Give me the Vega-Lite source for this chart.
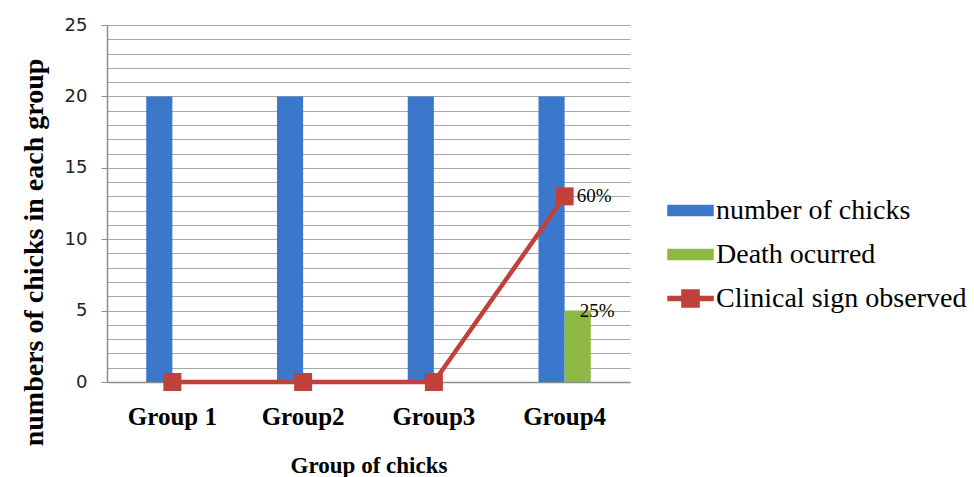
{
  "$schema": "https://vega.github.io/schema/vega-lite/v6.json",
  "width": 523,
  "height": 357,
  "autosize": "none",
  "padding": {"left": 107, "top": 25, "right": 344, "bottom": 95},
  "background": "white",
  "config": {"view": {"stroke": null}},
  "data": {
    "values": [
      {"group": "Group 1", "series": "number of chicks", "value": 20, "label": ""},
      {"group": "Group 1", "series": "Death ocurred", "value": 0, "label": ""},
      {"group": "Group 1", "series": "Clinical sign observed", "value": 0, "label": ""},
      {"group": "Group2", "series": "number of chicks", "value": 20, "label": ""},
      {"group": "Group2", "series": "Death ocurred", "value": 0, "label": ""},
      {"group": "Group2", "series": "Clinical sign observed", "value": 0, "label": ""},
      {"group": "Group3", "series": "number of chicks", "value": 20, "label": ""},
      {"group": "Group3", "series": "Death ocurred", "value": 0, "label": ""},
      {"group": "Group3", "series": "Clinical sign observed", "value": 0, "label": ""},
      {"group": "Group4", "series": "number of chicks", "value": 20, "label": ""},
      {"group": "Group4", "series": "Death ocurred", "value": 5, "label": "25%"},
      {"group": "Group4", "series": "Clinical sign observed", "value": 13, "label": "60%"}
    ]
  },
  "encoding": {
    "x": {
      "field": "group",
      "type": "nominal",
      "sort": null,
      "scale": {"paddingInner": 0.6, "paddingOuter": 0.3},
      "axis": {
        "title": "Group of chicks",
        "titleFont": "Liberation Serif",
        "titleFontSize": 23,
        "titleFontWeight": "bold",
        "titleColor": "#000",
        "titlePadding": 25,
        "labelAngle": 0,
        "labelFont": "Liberation Serif",
        "labelFontSize": 25,
        "labelFontWeight": "bold",
        "labelColor": "#000",
        "labelPadding": 22,
        "ticks": false,
        "domainColor": "#8c8c8c",
        "domainWidth": 1.5
      }
    },
    "y": {
      "field": "value",
      "type": "quantitative",
      "scale": {"domain": [0, 25], "nice": false},
      "axis": {
        "values": [0,1,2,3,4,5,6,7,8,9,10,11,12,13,14,15,16,17,18,19,20,21,22,23,24,25],
        "labelExpr": "datum.value % 5 === 0 ? datum.label : ''",
        "grid": true,
        "gridColor": "#a8a8a8",
        "gridWidth": 1,
        "domainColor": "#8c8c8c",
        "domainWidth": 1.5,
        "tickSize": 6,
        "tickColor": "#8c8c8c",
        "tickOpacity": {"expr": "datum.value % 5 === 0 ? 1 : 0"},
        "labelFont": "DejaVu Sans",
        "labelFontSize": 18,
        "labelColor": "#222",
        "labelPadding": 14,
        "title": "numbers of chicks in each group",
        "titleFont": "Liberation Serif",
        "titleFontSize": 28,
        "titleFontWeight": "bold",
        "titleColor": "#000",
        "titleAngle": -90,
        "titleX": -73,
        "titleY": 227,
        "titleBaseline": "middle",
        "titleAlign": "center"
      }
    },
    "color": {
      "field": "series",
      "type": "nominal",
      "scale": {
        "domain": ["number of chicks", "Death ocurred", "Clinical sign observed"],
        "range": ["#3B78CC", "#8DB843", "#C0403A"]
      },
      "legend": {
        "orient": "none",
        "legendX": 560,
        "legendY": 162,
        "title": null,
        "labelFont": "Liberation Serif",
        "labelFontSize": 28,
        "labelColor": "#000",
        "labelOffset": 2,
        "labelLimit": 0,
        "symbolSize": 2025,
        "rowPadding": 6,
        "encode": {
          "labels": {
            "update": {
              "font": {"value": "Liberation Serif"},
              "fontSize": {"value": 28},
              "fill": {"value": "#000"}
            }
          },
          "symbols": {
            "update": {
              "shape": {"signal": "datum.value === 'Clinical sign observed' ? 'M-1,-0.09H1V0.09H-1Z M-0.38,-0.38H0.38V0.38H-0.38Z' : 'M-1,-0.22H1V0.22H-1Z'"},
              "fill": {"scale": "color", "field": "value"},
              "stroke": {"value": "transparent"},
              "opacity": {"value": 1},
              "fillOpacity": {"value": 1}
            }
          }
        }
      }
    }
  },
  "layer": [
    {
      "transform": [{"filter": "datum.series !== 'Clinical sign observed'"}],
      "mark": {"type": "bar", "opacity": 1},
      "encoding": {
        "xOffset": {"field": "series", "type": "nominal", "scale": {"domain": ["number of chicks", "Death ocurred"], "paddingInner": 0, "paddingOuter": 0}}
      }
    },
    {
      "transform": [{"filter": "datum.series === 'Death ocurred' && datum.label !== ''"}],
      "mark": {"type": "text", "align": "left", "baseline": "middle", "dx": 2, "font": "Liberation Serif", "fontSize": 19, "color": "#000"},
      "encoding": {
        "xOffset": {"field": "series", "type": "nominal"},
        "text": {"field": "label"},
        "color": {"value": "#000"}
      }
    },
    {
      "transform": [{"filter": "datum.series === 'Clinical sign observed'"}],
      "mark": {"type": "line", "strokeWidth": 4.5},
      "encoding": {}
    },
    {
      "transform": [{"filter": "datum.series === 'Clinical sign observed'"}],
      "mark": {"type": "point", "shape": "square", "size": 324, "filled": true, "opacity": 1},
      "encoding": {}
    },
    {
      "transform": [{"filter": "datum.series === 'Clinical sign observed' && datum.label !== ''"}],
      "mark": {"type": "text", "align": "left", "baseline": "middle", "dx": 12, "font": "Liberation Serif", "fontSize": 19},
      "encoding": {
        "text": {"field": "label"},
        "color": {"value": "#000"}
      }
    }
  ]
}
